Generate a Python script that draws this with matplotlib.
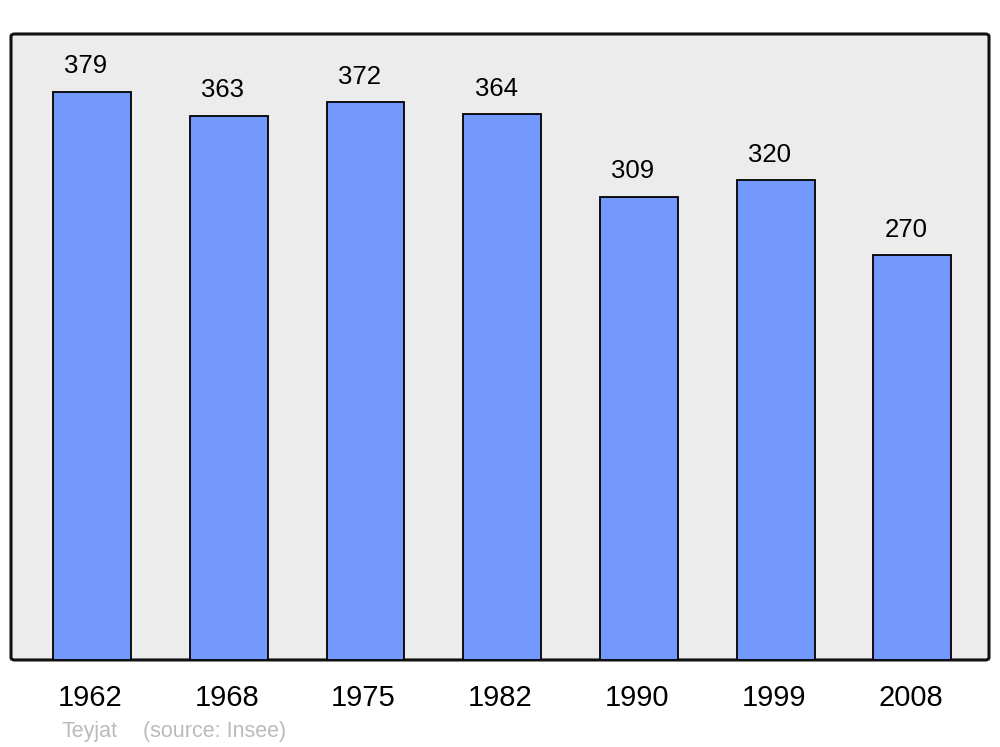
import matplotlib.pyplot as plt
import matplotlib.transforms as mtransforms
from matplotlib.patches import FancyBboxPatch

# DATA
years = ['1962', '1968', '1975', '1982', '1990', '1999', '2008']
population = [379, 363, 372, 364, 309, 320, 270]

plt.rcParams['font.family'] = ['Liberation Sans', 'DejaVu Sans']

fig = plt.figure(figsize=(10, 7.47), dpi=100)
ax = fig.add_axes([0.011, 0.1165, 0.978, 0.838])
ax.set_facecolor('none')

# rounded grey frame
frame = FancyBboxPatch((0, 0), 1, 1, boxstyle='round,pad=0,rounding_size=0.004',
                       transform=ax.transAxes, facecolor='#ececec', edgecolor='#111111',
                       linewidth=2.2, zorder=0, clip_on=False)
ax.add_patch(frame)

x = list(range(len(years)))
bars = ax.bar(x, population, width=0.57, color='#7399ff', edgecolor='black',
              linewidth=1.3, zorder=2)
for bar, v in zip(bars, population):
    ax.annotate(str(v), (bar.get_x() + bar.get_width() / 2, v), xytext=(-4.5, 13.5),
                textcoords='offset points', ha='center', va='baseline', fontsize=18.5)

ax.set_xlim(-0.593, 6.56)
ax.set_ylim(0, 417.7)
ax.set_xticks(x)
ax.set_xticklabels(years, fontsize=21)
ax.tick_params(axis='x', length=0, pad=17)
shift = mtransforms.ScaledTranslation(-2 / 100, 0, fig.dpi_scale_trans)
for lab in ax.get_xticklabels():
    lab.set_transform(lab.get_transform() + shift)
ax.set_yticks([])
for s in ax.spines.values():
    s.set_visible(False)

fig.text(0.061, 1 - 737 / 747, 'Teyjat', fontsize=15.5, color='#bbbbbb', va='baseline')
fig.text(0.143, 1 - 737 / 747, '(source: Insee)', fontsize=15.5, color='#bbbbbb', va='baseline')

plt.savefig('out.png', dpi=100)
